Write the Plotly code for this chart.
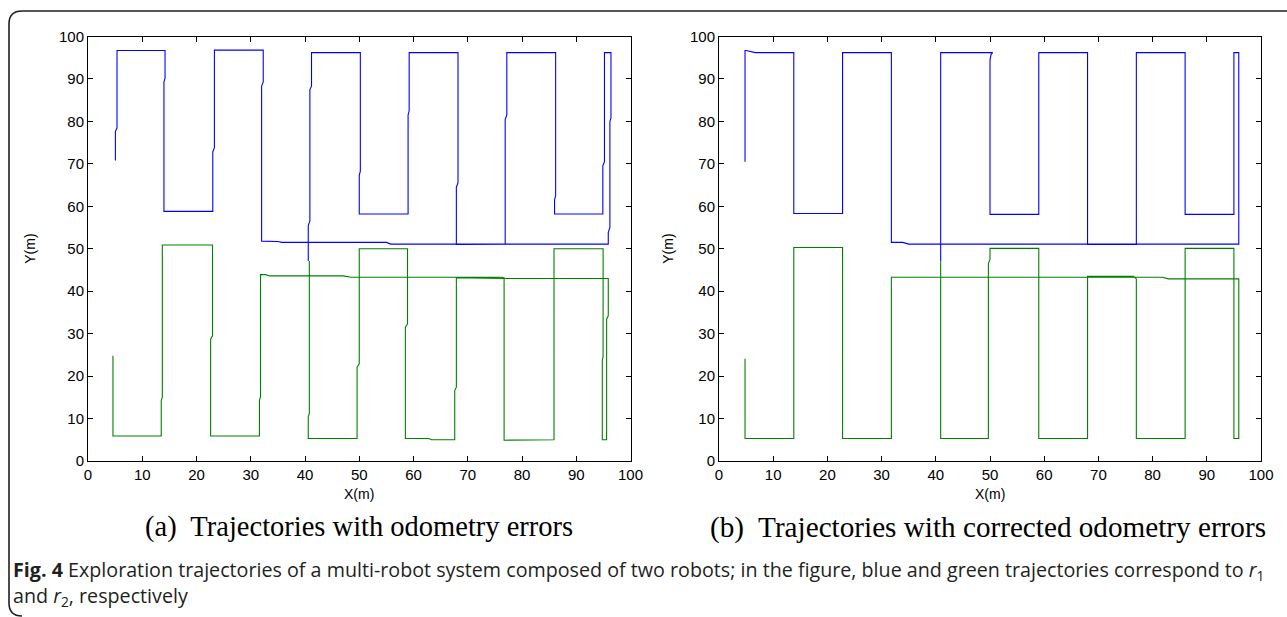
import plotly.graph_objects as go

W, H = 1287, 617

# ---------------- data ----------------
# (a) trajectories with odometry errors
blue_a_x = [5.05, 5.05, 5.35, 5.35, 14.2, 14.2, 14.0, 14.0, 23.0, 23.0, 23.3, 23.3,
            32.3, 32.3, 32.0, 32.0, 35.0, 35.7, 55.0, 55.8, 95.9, 95.9, 96.2, 96.2,
            96.4, 96.4, 95.2, 95.2, 94.9, 94.9, 86.0, 86.0, 86.2, 86.2, 77.2, 77.2,
            76.9, 76.9, 67.9, 67.9, 68.2, 68.2, 59.2, 59.2, 59.0, 59.0, 50.0, 50.0,
            50.2, 50.2, 41.2, 41.2, 40.9, 40.9, 40.6, 40.6]
blue_a_y = [70.8, 77.6, 78.5, 96.7, 96.7, 90.1, 89.3, 58.8, 58.8, 72.8, 73.8, 96.8,
            96.8, 89.3, 88.3, 51.8, 51.7, 51.5, 51.5, 51.1, 51.1, 53.8, 55.0, 80.0,
            80.8, 96.2, 96.2, 70.5, 69.5, 58.2, 58.2, 61.5, 62.5, 96.2, 96.2, 81.5,
            80.5, 51.1, 51.0, 64.5, 65.5, 96.2, 96.2, 82.5, 81.5, 58.2, 58.2, 67.3,
            68.3, 96.2, 96.2, 88.3, 87.5, 56.5, 55.5, 47.1]
green_a_x = [4.6, 4.6, 13.5, 13.5, 13.7, 13.7, 22.95, 22.95, 22.6, 22.6, 31.6, 31.6,
             31.8, 31.8, 32.7, 33.5, 47.0, 48.5, 76.3, 77.0, 95.9, 95.9, 95.6, 95.6,
             94.8, 94.8, 94.95, 94.95, 85.9, 85.9, 76.7, 76.7, 67.9, 67.9, 67.6, 67.6,
             63.3, 62.8, 58.5, 58.5, 58.9, 58.9, 50.0, 50.0, 49.6, 49.6, 40.6, 40.6,
             40.8, 40.8]
green_a_y = [24.8, 5.9, 5.9, 14.3, 15.0, 50.9, 50.9, 29.5, 28.7, 5.9, 5.9, 14.3,
             15.2, 43.9, 43.9, 43.6, 43.6, 43.3, 43.3, 43.0, 43.0, 34.2, 33.4, 5.0,
             5.0, 23.7, 24.5, 50.0, 50.0, 5.0, 4.9, 43.0, 43.2, 17.4, 16.6, 5.0,
             5.0, 5.3, 5.3, 31.5, 32.3, 50.0, 50.0, 22.9, 22.1, 5.3, 5.3, 10.4,
             11.2, 47.1]

# (b) trajectories with corrected odometry errors
blue_b_x = [4.8, 4.8, 5.0, 6.7, 13.8, 13.8, 22.8, 22.8, 31.8, 31.8, 33.9, 35.0,
            95.9, 95.9, 95.0, 95.0, 86.0, 86.0, 77.0, 77.0, 68.0, 68.0, 59.0, 59.0,
            50.0, 50.0, 50.2, 50.5, 40.9, 40.9]
blue_b_y = [70.5, 96.7, 96.7, 96.2, 96.2, 58.3, 58.3, 96.2, 96.2, 51.5, 51.5, 51.1,
            51.1, 96.2, 96.2, 58.1, 58.1, 96.2, 96.2, 51.0, 51.0, 96.2, 96.2, 58.1,
            58.1, 94.5, 95.8, 96.2, 96.2, 47.0]
green_b_x = [4.8, 4.8, 13.8, 13.8, 22.8, 22.8, 31.8, 31.8, 81.8, 82.9, 95.9, 95.9,
             95.0, 95.0, 86.0, 86.0, 77.0, 77.0, 76.5, 68.0, 68.0, 59.0, 59.0, 50.0,
             50.0, 49.7, 49.7, 40.9, 40.9]
green_b_y = [24.1, 5.3, 5.3, 50.3, 50.3, 5.3, 5.3, 43.3, 43.3, 42.9, 42.9, 5.3,
             5.3, 50.1, 50.1, 5.3, 5.3, 42.9, 43.5, 43.5, 5.3, 5.3, 50.1, 50.1,
             47.5, 46.5, 5.3, 5.3, 47.0]

tick_vals = [0, 10, 20, 30, 40, 50, 60, 70, 80, 90, 100]
tick_text = [str(v) for v in tick_vals]

subcaptions = ["(a)  Trajectories with odometry errors",
               "(b)  Trajectories with corrected odometry errors"]
axis_x_title = "X(m)"
axis_y_title = "Y(m)"
fig_caption = ("<b>Fig. 4</b> Exploration trajectories of a multi-robot system composed of two robots; "
               "in the figure, blue and green trajectories correspond to <i>r</i><sub>1</sub>"
               "<br>and <i>r</i><sub>2</sub>, respectively")

BLUE = "#0000ff"
GREEN = "#008000"


def px(x):
    return x / W


def py(y):
    return 1 - y / H


# plot boxes in pixels
L_X0, L_X1 = 88.0, 630.5
R_X0, R_X1 = 719.0, 1261.0
Y_TOP, Y_BOT = 36.5, 461.0

fig = go.Figure()
for xs, ys, col, ax in [(blue_a_x, blue_a_y, BLUE, "x"), (green_a_x, green_a_y, GREEN, "x"),
                        (blue_b_x, blue_b_y, BLUE, "x2"), (green_b_x, green_b_y, GREEN, "x2")]:
    fig.add_trace(go.Scatter(x=xs, y=ys, mode="lines",
                             line=dict(color=col, width=1.1),
                             xaxis=ax, yaxis="y" if ax == "x" else "y2",
                             showlegend=False, hoverinfo="skip"))

axis_common = dict(range=[0, 100], tickmode="array", tickvals=tick_vals, ticktext=tick_text,
                   ticks="inside", ticklen=5, tickwidth=1, tickcolor="#000",
                   showline=True, linecolor="#000", linewidth=1, mirror="ticks",
                   showgrid=False, zeroline=False,
                   tickfont=dict(family="Liberation Sans, Arial, sans-serif", size=15, color="#000"))

fig.update_layout(
    autosize=True,
    margin=dict(l=0, r=0, t=0, b=0, autoexpand=False),
    paper_bgcolor="white", plot_bgcolor="white",
    xaxis=dict(domain=[px(L_X0), px(L_X1)], anchor="y", **axis_common),
    yaxis=dict(domain=[py(Y_BOT), py(Y_TOP)], anchor="x", **axis_common),
    xaxis2=dict(domain=[px(R_X0), px(R_X1)], anchor="y2", **axis_common),
    yaxis2=dict(domain=[py(Y_BOT), py(Y_TOP)], anchor="x2", **axis_common),
)

anns = []
lab_font = dict(family="Liberation Sans, Arial, sans-serif", size=14, color="#000")
for x0, x1, ylab_x in [(L_X0, L_X1, 30), (R_X0, R_X1, 668)]:
    anns.append(dict(x=px((x0 + x1) / 2), y=py(494), xref="paper", yref="paper",
                     text=axis_x_title, showarrow=False, font=lab_font,
                     xanchor="center", yanchor="middle"))
    anns.append(dict(x=px(ylab_x), y=py((Y_TOP + Y_BOT) / 2), xref="paper", yref="paper",
                     text=axis_y_title, showarrow=False, font=lab_font, textangle=-90,
                     xanchor="center", yanchor="middle"))

cap_font = dict(family="Liberation Serif, Times New Roman, serif", size=28.5, color="#000")
anns.append(dict(x=px(359), y=py(527), xref="paper", yref="paper", text=subcaptions[0],
                 showarrow=False, font=cap_font, xanchor="center", yanchor="middle"))
anns.append(dict(x=px(988), y=py(527), xref="paper", yref="paper",
                 text=subcaptions[1], showarrow=False,
                 font=dict(family=cap_font["family"], size=29.2, color="#000"),
                 xanchor="center", yanchor="middle"))

fig_font = dict(family="Open Sans, Noto Sans, sans-serif", size=19.7, color="#231f20")
anns.append(dict(x=px(11), y=py(554), xref="paper", yref="paper", text=fig_caption,
                 showarrow=False, font=fig_font, xanchor="left", yanchor="top", align="left"))
fig.update_layout(annotations=anns)

# rounded frame (top and left edges)
pts = [(1290, 11), (22, 11), (9, 11), (9, 24), (9, 603), (9, 616), (22, 616)]
path = "M {},{} L {},{} Q {},{} {},{} L {},{} Q {},{} {},{}".format(
    px(pts[0][0]), py(pts[0][1]), px(pts[1][0]), py(pts[1][1]),
    px(pts[2][0]), py(pts[2][1]), px(pts[3][0]), py(pts[3][1]),
    px(pts[4][0]), py(pts[4][1]),
    px(pts[5][0]), py(pts[5][1]), px(pts[6][0]), py(pts[6][1]))
fig.add_shape(type="path", path=path, xref="paper", yref="paper",
              line=dict(color="#231f20", width=1.6))

fig.write_html("out.html",
               config={"displayModeBar": False, "responsive": True},
               default_width="100vw", default_height="100vh",
               post_script=("document.documentElement.style.margin='0';"
                            "document.documentElement.style.overflow='hidden';"
                            "document.body.style.margin='0';"
                            "document.body.style.overflow='hidden';"
                            "window.dispatchEvent(new Event('resize'));"))
